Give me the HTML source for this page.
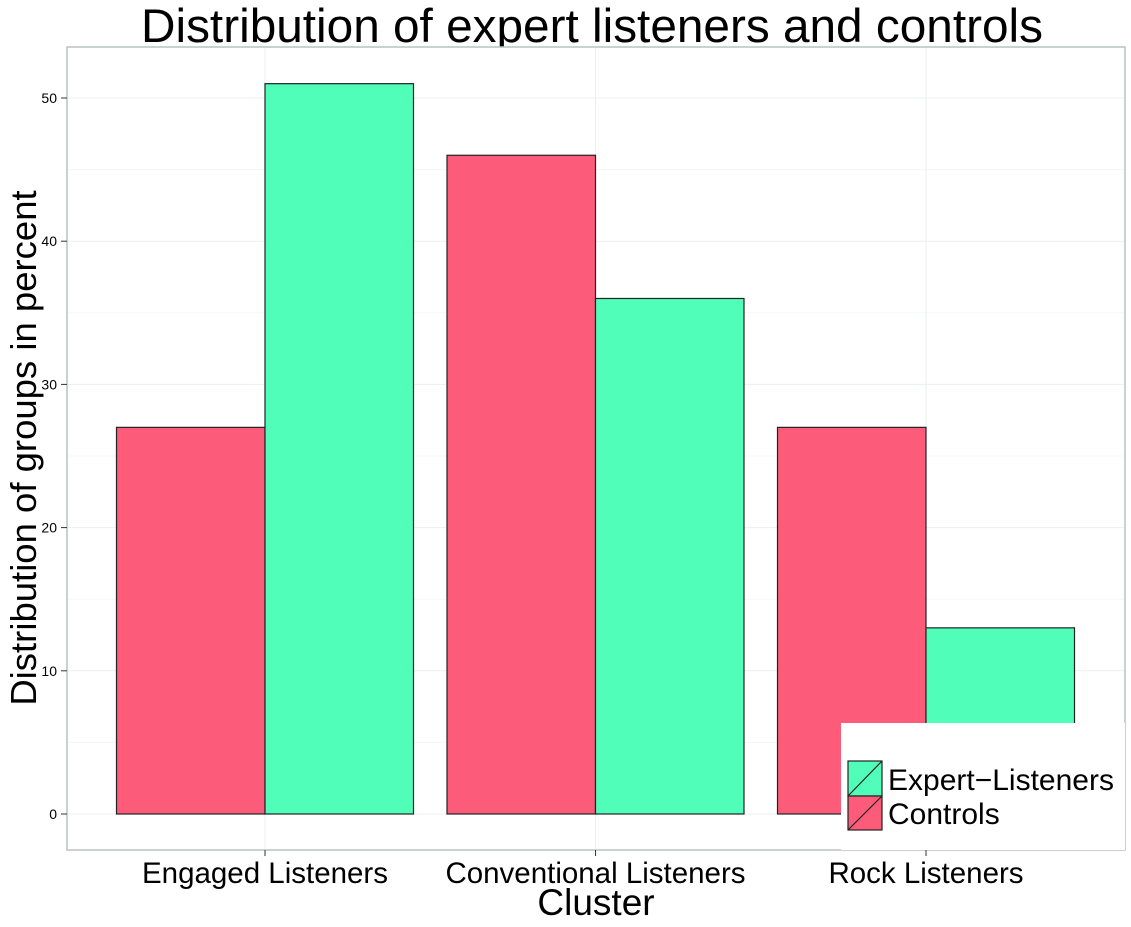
<!DOCTYPE html>
<html><head><meta charset="utf-8"><style>
body{margin:0;background:#fff;font-family:"Liberation Sans",sans-serif}
</style></head><body>
<svg id="c" width="1131" height="922" xmlns="http://www.w3.org/2000/svg" font-family="Liberation Sans, sans-serif">
<text x="592" y="42" font-size="47" text-anchor="middle" textLength="902" lengthAdjust="spacingAndGlyphs">Distribution of expert listeners and controls</text>
<rect x="67" y="47" width="1058" height="803" fill="#fff" stroke="#b8c2c2" stroke-width="1.5"/>
<g id="grid"></g><g id="bars"></g><g id="axes"></g>
<text x="596" y="915" font-size="37" text-anchor="middle">Cluster</text>
<text transform="translate(36,448) rotate(-90)" font-size="36.5" text-anchor="middle">Distribution of groups in percent</text>
<g>
<rect x="841" y="723" width="284" height="127" fill="#fff"/>
<rect x="848" y="761" width="34" height="35" fill="#50feb9" stroke="#222" stroke-width="1.2"/>
<line x1="848" y1="796" x2="882" y2="761" stroke="#222" stroke-width="1.2"/>
<rect x="848" y="796" width="34" height="34" fill="#fc5b7a" stroke="#222" stroke-width="1.2"/>
<line x1="848" y1="830" x2="882" y2="796" stroke="#222" stroke-width="1.2"/>
<text x="888" y="790" font-size="30">Expert−Listeners</text>
<text x="888" y="824" font-size="30">Controls</text>
</g>
</svg>
<script>
const categories=["Engaged Listeners","Conventional Listeners","Rock Listeners"];
const controls=[27,46,27];
const experts=[51,36,13];
const yTicks=[0,10,20,30,40,50];
const NS="http://www.w3.org/2000/svg";
const x0=265,step=330.5,bw=148.5;
const xc=i=>x0+i*step;
const y=v=>814-v*14.32;
function mk(t,a,p,txt){const e=document.createElementNS(NS,t);for(const k in a)e.setAttribute(k,a[k]);if(txt!==undefined)e.textContent=txt;document.getElementById(p).appendChild(e);return e;}
for(let v=-5;v<=55;v+=5){const yy=y(v);if(yy<48||yy>849)continue;
const g=mk('line',{x1:68,x2:1124,y1:yy,y2:yy,stroke:v%10?'#f5f7f7':'#eceff0','stroke-width':1},'grid');

}
categories.forEach((c,i)=>{const g=mk('line',{x1:xc(i),x2:xc(i),y1:48,y2:849,stroke:'#eceff0','stroke-width':1},'grid');

});
categories.forEach((c,i)=>{
const r=mk('rect',{x:xc(i)-bw,y:y(controls[i]),width:bw,height:y(0)-y(controls[i]),fill:'#fc5b7a',stroke:'#222','stroke-width':1.2},'bars');


const e=mk('rect',{x:xc(i),y:y(experts[i]),width:bw,height:y(0)-y(experts[i]),fill:'#50feb9',stroke:'#222','stroke-width':1.2},'bars');


const tk=mk('line',{x1:xc(i),x2:xc(i),y1:850,y2:856,stroke:'#333'},'axes');


const t=mk('text',{x:xc(i),y:883,'font-size':29.5,'text-anchor':'middle'},'axes',c);


});
yTicks.forEach(v=>{
const tk=mk('line',{x1:61,x2:67,y1:y(v),y2:y(v),stroke:'#333'},'axes');


const t=mk('text',{x:57,y:y(v)+5,'font-size':14,'text-anchor':'end'},'axes',String(v));


});
</script>
</body></html>
